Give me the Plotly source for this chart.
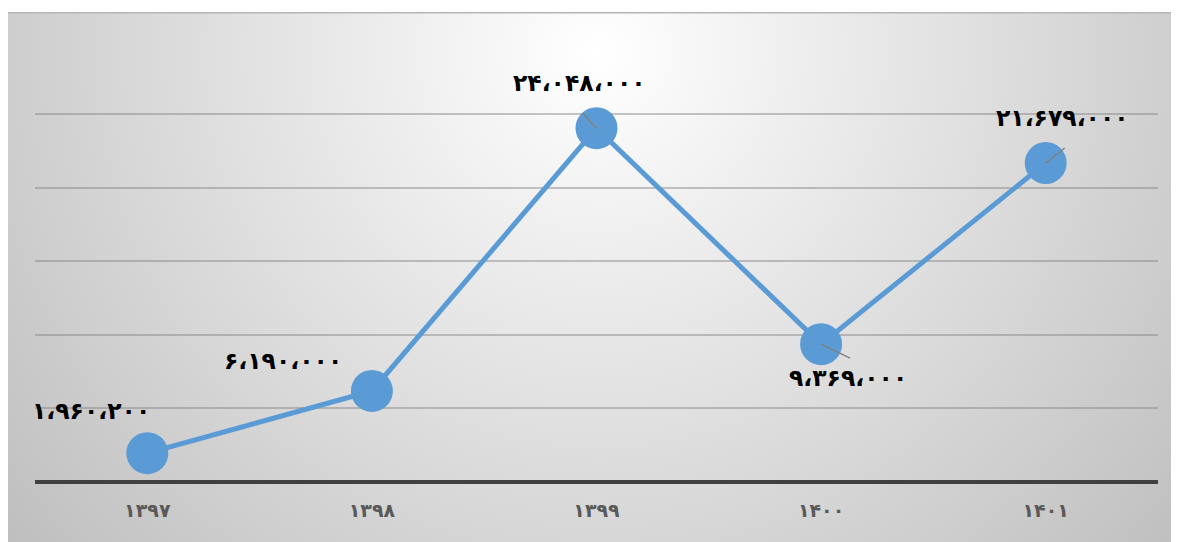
import base64
import plotly.graph_objects as go

# ---- data ----
years = ["۱۳۹۷", "۱۳۹۸", "۱۳۹۹", "۱۴۰۰", "۱۴۰۱"]
values = [1960200, 6190000, 24048000, 9369000, 21679000]
value_labels = ["۱،۹۶۰،۲۰۰", "۶،۱۹۰،۰۰۰", "۲۴،۰۴۸،۰۰۰", "۹،۳۶۹،۰۰۰", "۲۱،۶۷۹،۰۰۰"]

# label offsets (pixels) relative to each point
label_dx = [-56, -89, -17, 27, 17]
label_dy = [42, 30, 45, -34, 45]
# leader lines (pixels) for points where the label was moved
leader = {2: (-14, 15), 3: (29, -14), 4: (19, 15)}

# page has an 8px body margin, so the figure is drawn 8px in from the top-left
OFF = 8
W, H = 1179 - OFF, 542 - OFF
ML, MT = 35 - OFF, 40 - OFF
MR = W - (1158 - OFF)
MB = H - (482 - OFF)
PW, PH = W - ML - MR, H - MT - MB

# background radial gradient image (frame starts at page x=7, y=12)
FX, FY = 0, 12 - OFF
fw, fh = W - FX, H - FY
svg = (
    f'<svg xmlns="http://www.w3.org/2000/svg" width="{fw}" height="{fh}" '
    f'viewBox="0 0 {fw} {fh}" preserveAspectRatio="none"><defs>'
    f'<radialGradient id="g" gradientUnits="userSpaceOnUse" cx="590" cy="40" r="800">'
    f'<stop offset="0" stop-color="#ffffff"/><stop offset="1" stop-color="#bcbcbc"/>'
    f'</radialGradient></defs><rect width="{fw}" height="{fh}" fill="url(#g)"/>'
    f'<line x1="0" y1="0.75" x2="{fw}" y2="0.75" stroke="#b5b5b5" stroke-width="1.5"/></svg>'
)
src = "data:image/svg+xml;base64," + base64.b64encode(svg.encode()).decode()

fig = go.Figure()
fig.add_trace(go.Scatter(
    x=years, y=values, mode="lines+markers",
    line=dict(color="#5b9bd5", width=5),
    marker=dict(color="#5b9bd5", size=42),
    hoverinfo="skip",
))

for i, (yr, v, lab) in enumerate(zip(years, values, value_labels)):
    fig.add_annotation(
        x=yr, y=v, text=lab, showarrow=False,
        xshift=label_dx[i], yshift=label_dy[i],
        font=dict(family="DejaVu Sans", size=23.5, color="#000000", weight="bold"),
    )

for i, (dx, dy) in leader.items():
    fig.add_shape(
        type="line", xref="x", yref="y",
        xsizemode="pixel", ysizemode="pixel",
        xanchor=i, yanchor=values[i],
        x0=0, y0=0, x1=dx, y1=dy,
        line=dict(color="#808080", width=1.5), layer="above",
    )

fig.add_layout_image(
    source=src, xref="paper", yref="paper",
    x=(FX - ML) / PW, y=(H - MB - FY) / PH,
    sizex=fw / PW, sizey=fh / PH,
    xanchor="left", yanchor="top", sizing="stretch", layer="below",
)

fig.update_layout(
    width=W, height=H,
    margin=dict(l=ML, r=MR, t=MT, b=MB),
    paper_bgcolor="#ffffff", plot_bgcolor="rgba(0,0,0,0)",
    showlegend=False,
    xaxis=dict(
        type="category", range=[-0.5, 4.5], showgrid=False, showline=False,
        zeroline=False, ticks="", ticklabelstandoff=15,
        tickfont=dict(family="DejaVu Sans", size=19, color="#595959", weight="bold"),
    ),
    yaxis=dict(
        range=[0, 30040000], dtick=5000000, showticklabels=False,
        showgrid=True, gridcolor="rgba(128,128,128,0.45)", gridwidth=1.5,
        zeroline=True, zerolinecolor="#404040", zerolinewidth=4,
        showline=False,
    ),
)

fig.write_html("out.html")
